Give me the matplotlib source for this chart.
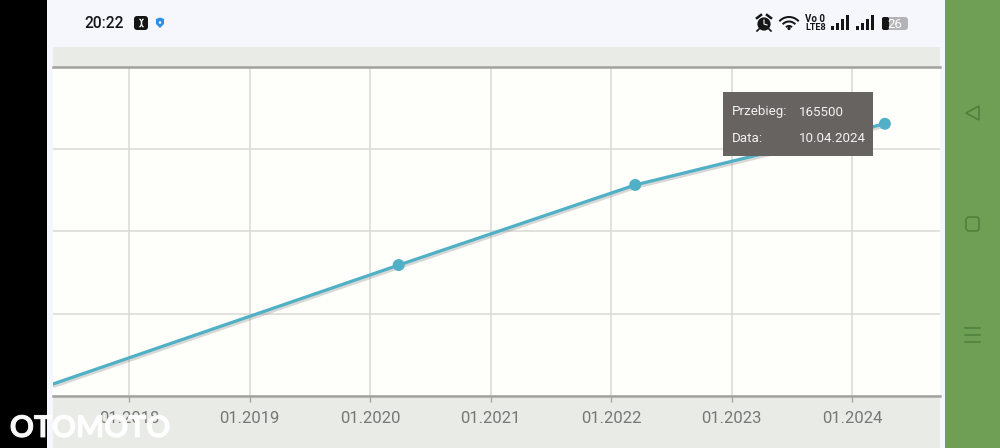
import matplotlib
matplotlib.use("Agg")
import matplotlib.pyplot as plt
import matplotlib.dates as mdates
import matplotlib.patheffects as pe
from matplotlib.patches import Rectangle, Polygon, FancyBboxPatch, Circle, Wedge, Arc
import numpy as np

plt.rcParams['font.family'] = ['Roboto', 'DejaVu Sans']

# mileage readings, the first one is cut off by the left edge of the plot
dates = np.array(['2017-05-15', '2020-03-28', '2022-03-15', '2024-04-10'], dtype='datetime64[D]')
mileage = [7300, 79600, 128300, 165500]
marked = [1, 2, 3]

year_ticks = np.array(['2018-01-01', '2019-01-01', '2020-01-01', '2021-01-01',
                       '2022-01-01', '2023-01-01', '2024-01-01'], dtype='datetime64[D]')
year_labels = ['01.2018', '01.2019', '01.2020', '01.2021', '01.2022', '01.2023', '01.2024']
value_ticks = [0, 50000, 100000, 150000, 200000]

tooltip_rows = [('Przebieg:', '165500'), ('Data:', '10.04.2024')]

W, H = 1000, 448
fig = plt.figure(figsize=(W / 100, H / 100), dpi=100, facecolor='#f6f6fd')


def px_axes(zorder):
    a = fig.add_axes([0, 0, 1, 1], zorder=zorder)
    a.set_xlim(0, W)
    a.set_ylim(H, 0)
    a.axis('off')
    a.patch.set_alpha(0)
    return a


# screenshot chrome behind the chart
back = px_axes(0)
back.add_patch(Rectangle((0, 0), 47, H, color='black', lw=0))
back.add_patch(Rectangle((945, 0), 55, H, color='#6f9f55', lw=0))
back.add_patch(Rectangle((53, 47), 887, H - 47, color='#e9ebe6', lw=0))

# chart
left, right, top, bottom = 53, 940, 67, 396
ax = fig.add_axes([left / W, 1 - bottom / H, (right - left) / W, (bottom - top) / H], zorder=1)
ax.set_facecolor('#fefefa')
x = mdates.date2num(dates)
ticks = mdates.date2num(year_ticks)
ax.set_xlim(mdates.date2num(np.datetime64('2017-05-15')), mdates.date2num(np.datetime64('2024-09-24')))
ax.set_ylim(0, 200000)
ax.set_xticks(ticks, year_labels)
ax.set_yticks(value_ticks)
ax.tick_params(axis='y', left=False, labelleft=False)
ax.tick_params(axis='x', length=4, width=1.0, color='#a8a8a4', labelsize=12,
               labelcolor='#777775', pad=7)
ax.grid(True, color='#d9d9d6', lw=1.1)
ax.set_axisbelow(True)
for side in ['left', 'right']:
    ax.spines[side].set_visible(False)
for side in ['top', 'bottom']:
    ax.spines[side].set_color('#a3a39e')
    ax.spines[side].set_linewidth(1.8)

ax.plot(x, mileage, color='#4fb0c6', lw=2.3, solid_capstyle='round',
        path_effects=[pe.SimpleLineShadow(offset=(0.8, -1.6), shadow_color='#808080', alpha=0.3),
                      pe.Normal()])
ax.plot(x[marked], np.array(mileage)[marked], 'o', color='#4fb0c6', ms=8.6, mew=0,
        path_effects=[pe.SimpleLineShadow(offset=(0.8, -1.2), shadow_color='#808080', alpha=0.3),
                      pe.Normal()])

# tooltip, status bar, navigation bar, watermark on top
top_ax = px_axes(2)
top_ax.add_patch(Rectangle((723, 92), 150, 64, color='#666360', lw=0))
for (name, val), y in zip(tooltip_rows, [112, 138]):
    top_ax.text(732, y, name, color='#f2f2f0', fontsize=9.6, va='center')
    top_ax.text(799, y, val, color='#f2f2f0', fontsize=9.6, va='center')

top_ax.text(84, 23.5, '20:22', color='#151515', fontsize=11.2, fontweight='medium', va='center')
top_ax.add_patch(FancyBboxPatch((134, 16), 14, 14, boxstyle='round,pad=0,rounding_size=3',
                                color='#151515', lw=0))
top_ax.add_patch(Arc((138, 23), 7, 9, theta1=-70, theta2=70, color='white', lw=0.9))
top_ax.add_patch(Arc((145, 23), 7, 9, theta1=110, theta2=250, color='white', lw=0.9))
top_ax.add_patch(Polygon([(156, 19), (160, 17.5), (164, 19), (164, 24), (160, 28), (156, 24)],
                         color='#2b8fe8', lw=0))
top_ax.add_patch(Circle((160, 22.5), 1.3, color='white', lw=0))

# alarm clock
top_ax.add_patch(Circle((764, 24), 6.6, color='#151515', lw=0))
top_ax.plot([764, 764, 767], [20, 24, 25], color='white', lw=0.8)
top_ax.plot([757, 761], [18, 15], color='#151515', lw=1.8)
top_ax.plot([771, 767], [18, 15], color='#151515', lw=1.8)
top_ax.plot([759, 757], [29, 31], color='#151515', lw=1.2)
top_ax.plot([769, 771], [29, 31], color='#151515', lw=1.2)
# wifi
for r in [14, 9.5, 5]:
    top_ax.add_patch(Wedge((789, 30), r, 222, 318, width=2, color='#151515', lw=0))
top_ax.add_patch(Circle((789, 28.5), 1.6, color='#151515', lw=0))
top_ax.text(805, 19, 'Vo 0', color='#151515', fontsize=7, fontweight='bold', va='center')
top_ax.text(805, 27.5, 'LTE8', color='#151515', fontsize=6.6, fontweight='bold', va='center')
# signal bars
for x0 in [831, 856]:
    for i, h in enumerate([4, 7, 11, 15]):
        top_ax.add_patch(Rectangle((x0 + i * 4.9, 30 - h), 3.2, h, color='#151515', lw=0))
# battery
top_ax.add_patch(FancyBboxPatch((882, 17), 26, 13, boxstyle='round,pad=0,rounding_size=3',
                                color='#b4b4b8', lw=0))
top_ax.add_patch(FancyBboxPatch((882, 17), 7, 13, boxstyle='round,pad=0,rounding_size=2',
                                color='#151515', lw=0))
top_ax.text(895, 24, '26', color='white', fontsize=9.5, ha='center', va='center')

# navigation icons
nav = '#4d7f3b'
top_ax.add_patch(Polygon([(966, 113), (979, 106), (979, 120)], fill=False, ec=nav, lw=1.1))
top_ax.add_patch(FancyBboxPatch((966, 217), 13, 14, boxstyle='round,pad=0,rounding_size=3',
                                fill=False, ec=nav, lw=1.1))
for y in [328, 335, 342]:
    top_ax.plot([965, 980], [y, y], color=nav, lw=1.1)

# watermark
top_ax.text(90, 428, 'OTOMOTO', color='white', alpha=0.85, fontsize=21.5, fontweight='bold',
            family='Lato', ha='center', va='center',
            path_effects=[pe.withStroke(linewidth=0.7, foreground='white', alpha=0.85)])

fig.savefig('out.png', dpi=100, facecolor=fig.get_facecolor())
